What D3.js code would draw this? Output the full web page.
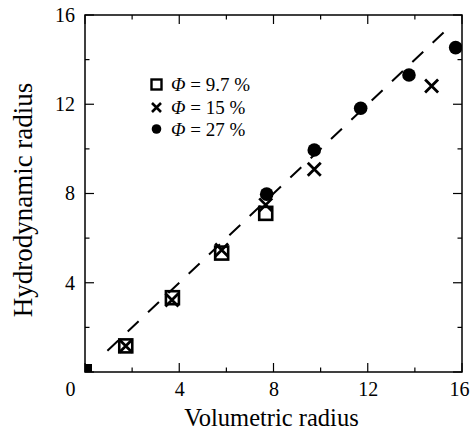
<!DOCTYPE html>
<html><head><meta charset="utf-8">
<script src="https://cdn.jsdelivr.net/npm/d3@7"></script>
<style>body{margin:0;background:#fff}svg{display:block}</style>
</head><body><svg id="c" width="470" height="432"></svg>
<script>
const seriesNames = ["9.7 %", "15 %", "27 %"];
const sqX = [1.73, 3.71, 5.80, 7.67];
const sqY = [1.17, 3.33, 5.33, 7.11];
const crX = [1.73, 3.69, 5.80, 7.67, 9.73, 14.71];
const crY = [1.17, 3.23, 5.47, 7.49, 9.09, 12.82];
const ciX = [7.71, 9.73, 11.70, 13.75, 15.73];
const ciY = [7.97, 9.95, 11.82, 13.31, 14.54];
const originX = [0], originY = [0];
const fitX = [0.95, 15.4];
const xTicks = [0, 4, 8, 12, 16];
const yTicks = [4, 8, 12, 16];
const minorTicks = [2, 6, 10, 14];

const FONT = "'Liberation Serif', 'Times New Roman', Times, 'DejaVu Serif', serif";
const svg = d3.select("#c");
const L = 85, R = 462, T = 15, B = 372;
const x = d3.scaleLinear().domain([0, 16]).range([L, R]);
const y = d3.scaleLinear().domain([0, 16]).range([B, T]);

svg.append("defs").append("clipPath").attr("id", "clip")
  .append("rect").attr("x", L).attr("y", T).attr("width", R - L).attr("height", B - T);

// dashed fit line y = x
svg.append("line")
  .attr("x1", x(fitX[0])).attr("y1", y(fitX[0]))
  .attr("x2", x(fitX[1])).attr("y2", y(fitX[1]))
  .attr("stroke", "#000").attr("stroke-width", 2).attr("stroke-dasharray", "15,13");

const plot = svg.append("g").attr("clip-path", "url(#clip)");

// origin marker (clipped)
plot.selectAll(".orig").data(originX).enter().append("rect")
  .attr("x", (d, i) => x(d) - 7).attr("y", (d, i) => y(originY[i]) - 8)
  .attr("width", 14).attr("height", 16).attr("fill", "#000");

// squares
plot.selectAll(".sq").data(sqX).enter().append("rect")
  .attr("x", d => x(d) - 6.5).attr("y", (d, i) => y(sqY[i]) - 6.5)
  .attr("width", 13).attr("height", 13)
  .attr("fill", "none").attr("stroke", "#000").attr("stroke-width", 2.6);

// crosses
const crossPath = (cx, cy, s) => `M${cx - s},${cy - s}L${cx + s},${cy + s}M${cx - s},${cy + s}L${cx + s},${cy - s}`;
plot.selectAll(".cr").data(crX).enter().append("path")
  .attr("d", (d, i) => crossPath(x(d), y(crY[i]), 6.5))
  .attr("stroke", "#000").attr("stroke-width", 2.8).attr("fill", "none");

// circles
plot.selectAll(".ci").data(ciX).enter().append("circle")
  .attr("cx", d => x(d)).attr("cy", (d, i) => y(ciY[i])).attr("r", 6.8).attr("fill", "#000");

// frame
svg.append("rect").attr("x", L).attr("y", T).attr("width", R - L).attr("height", B - T)
  .attr("fill", "none").attr("stroke", "#000").attr("stroke-width", 1.5);

// ticks (inward, all four sides)
const tk = svg.append("g").attr("stroke", "#000").attr("stroke-width", 1.2);
const allX = xTicks.concat(minorTicks), allY = [0].concat(yTicks, minorTicks);
allX.forEach(v => {
  const len = minorTicks.includes(v) ? 4.5 : 9;
  tk.append("line").attr("x1", x(v)).attr("x2", x(v)).attr("y1", B).attr("y2", B - len);
  tk.append("line").attr("x1", x(v)).attr("x2", x(v)).attr("y1", T).attr("y2", T + len);
});
allY.forEach(v => {
  const len = minorTicks.includes(v) ? 4.5 : 9;
  tk.append("line").attr("y1", y(v)).attr("y2", y(v)).attr("x1", L).attr("x2", L + len);
  tk.append("line").attr("y1", y(v)).attr("y2", y(v)).attr("x1", R).attr("x2", R - len);
});

// tick labels via axes (lines hidden)
const xAx = svg.append("g").attr("transform", `translate(0,${B})`)
  .call(d3.axisBottom(x).tickValues(xTicks).tickSize(0).tickPadding(10).tickFormat(d3.format("d")));
xAx.select(".domain").remove();
xAx.selectAll("text").style("font-family", FONT).style("font-size", "20px").attr("fill", "#000")
  .attr("x", d => d === 0 ? -15 : (d === 16 ? -3 : 0));
const yAx = svg.append("g").attr("transform", `translate(${L},0)`)
  .call(d3.axisLeft(y).tickValues(yTicks).tickSize(0).tickPadding(10).tickFormat(d3.format("d")));
yAx.select(".domain").remove();
yAx.selectAll("text").style("font-family", FONT).style("font-size", "20px").attr("fill", "#000");

// axis titles
svg.append("text").attr("x", (L + R) / 2 - 2).attr("y", 426).attr("text-anchor", "middle")
  .style("font-family", FONT).style("font-size", "24.5px").text("Volumetric radius");
svg.append("text").attr("transform", `translate(32,200) rotate(-90)`).attr("text-anchor", "middle")
  .style("font-family", FONT).style("font-size", "27px").text("Hydrodynamic radius");

// legend
const lg = svg.append("g");
const ly = [84.5, 107.5, 129];
const lx = 156.5;
lg.append("rect").attr("x", lx - 5).attr("y", ly[0] - 5).attr("width", 10).attr("height", 10)
  .attr("fill", "none").attr("stroke", "#000").attr("stroke-width", 2.4);
lg.append("path").attr("d", crossPath(lx, ly[1], 4.5)).attr("stroke", "#000").attr("stroke-width", 2.6);
lg.append("circle").attr("cx", lx).attr("cy", ly[2]).attr("r", 4.8).attr("fill", "#000");
seriesNames.forEach((s, i) => {
  const t = lg.append("text").attr("x", 171).attr("y", ly[i] + 6.5)
    .style("font-family", FONT).style("font-size", "19px");
  t.append("tspan").style("font-style", "italic").text("Φ");
  t.append("tspan").text(" = " + s);
});
</script></body></html>
